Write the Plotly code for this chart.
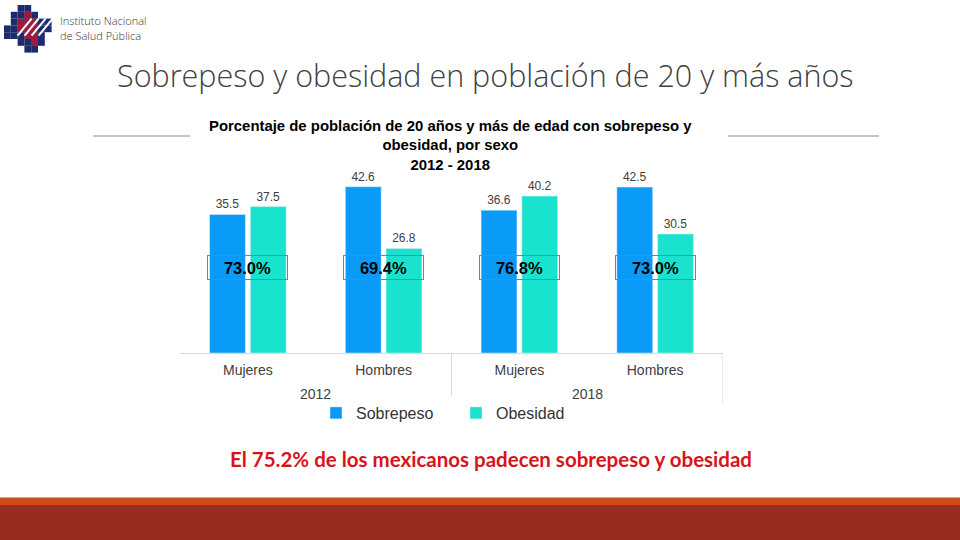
import plotly.graph_objects as go

# ---- data ----
years = ["2012", "2012", "2018", "2018"]
sexes = ["Mujeres", "Hombres", "Mujeres", "Hombres"]
sobrepeso = [35.5, 42.6, 36.6, 42.5]
obesidad = [37.5, 26.8, 40.2, 30.5]
totales = ["73.0%", "69.4%", "76.8%", "73.0%"]

slide_title = "Sobrepeso y obesidad en población de 20 y más años"
chart_title = ("Porcentaje de población de 20 años y más de edad con sobrepeso y<br>"
               "obesidad, por sexo<br>2012 - 2018")
footer_text = "El 75.2% de los mexicanos padecen sobrepeso y obesidad"

W, H = 960, 540
def px(x):
    return x / W
def py(y):
    return 1 - y / H

C_SOB = "#0A9BF8"
C_OBE = "#19E3CF"

XDOM = [px(180), px(723)]
xpos = list(range(len(sexes)))

fig = go.Figure()
fig.add_trace(go.Bar(
    x=xpos, y=sobrepeso, name="Sobrepeso", marker_color=C_SOB,
    text=[f"{v:.1f}" for v in sobrepeso], textposition="outside",
    textfont=dict(size=12, color="#404040", family="Liberation Sans"),
    cliponaxis=False,
))
fig.add_trace(go.Bar(
    x=xpos, y=obesidad, name="Obesidad", marker_color=C_OBE,
    text=[f"{v:.1f}" for v in obesidad], textposition="outside",
    textfont=dict(size=12, color="#404040", family="Liberation Sans"),
    cliponaxis=False,
))

annotations = []
for i, t in zip(xpos, totales):
    annotations.append(dict(
        x=i, xref="x", y=22, yref="y", xanchor="center", yanchor="middle",
        text=f"<b>{t}</b>", showarrow=False, align="center",
        font=dict(size=16.5, color="#000000", family="Liberation Sans"),
        width=75, height=19, borderpad=2,
        bordercolor="#808080", borderwidth=1, bgcolor="rgba(0,0,0,0)",
    ))

# year group labels and dividers
shapes = []
unique_years = list(dict.fromkeys(years))
for yr in unique_years:
    idx = [i for i, y in zip(xpos, years) if y == yr]
    annotations.append(dict(
        x=sum(idx) / len(idx), xref="x", y=py(394), yref="paper",
        text=yr, showarrow=False, xanchor="center", yanchor="middle",
        font=dict(size=14, color="#404040", family="Liberation Sans"),
    ))
    shapes.append(dict(type="line", xref="x", yref="paper",
                       x0=max(idx) + 0.5, x1=max(idx) + 0.5, y0=py(354), y1=py(403),
                       line=dict(color="#D9D9D9", width=1)))

# Chart title
annotations.append(dict(
    x=px(450), y=py(145), xref="paper", yref="paper", text=f"<b>{chart_title}</b>",
    showarrow=False, font=dict(size=14.9, color="#000000", family="Liberation Sans"),
    align="center", xanchor="center", yanchor="middle",
))
# Slide title
annotations.append(dict(
    x=px(485), y=py(75), xref="paper", yref="paper", text=slide_title,
    showarrow=False, font=dict(size=30.5, color="#404040", family="Open Sans", weight=300),
    xanchor="center", yanchor="middle",
))
# Footer statement
annotations.append(dict(
    x=px(491), y=py(459), xref="paper", yref="paper", text=f"<b>{footer_text}</b>",
    showarrow=False, font=dict(size=20.5, color="#D7141B", family="Lato"),
    xanchor="center", yanchor="middle",
))
# Logo text
annotations.append(dict(
    x=px(58), y=py(21), xref="paper", yref="paper", text="Instituto Nacional",
    showarrow=False, font=dict(size=11, color="#333333", family="Open Sans", weight=300),
    xanchor="left", yanchor="middle",
))
annotations.append(dict(
    x=px(58), y=py(36), xref="paper", yref="paper", text="de Salud Pública",
    showarrow=False, font=dict(size=11, color="#333333", family="Open Sans", weight=300),
    xanchor="left", yanchor="middle",
))

# decorative gray lines
for x0, x1 in [(93, 190), (728, 879)]:
    shapes.append(dict(type="line", xref="paper", yref="paper",
                       x0=px(x0), x1=px(x1), y0=py(136), y1=py(136),
                       line=dict(color="#8c8c8c", width=1)))
# bottom bands
shapes.append(dict(type="rect", xref="paper", yref="paper", x0=0, x1=1,
                   y0=py(505), y1=py(497.5), fillcolor="#D04A1A", line_width=0, layer="below"))
shapes.append(dict(type="rect", xref="paper", yref="paper", x0=0, x1=1,
                   y0=0, y1=py(505), fillcolor="#9A2B1F", line_width=0, layer="below"))

# logo (stepped cross pattern)
cell = 6.8
ox, oy = 4, 5
navy_cells = {
    0: [2, 3],
    1: [1, 2, 3, 4],
    2: [1, 2, 3, 4, 5, 6],
    3: [0, 1, 2, 3, 4, 5, 6],
    4: [0, 1, 2, 3, 4, 5],
    5: [2, 3, 4, 5],
    6: [3, 4],
}
red_cells = {
    1: [3],
    2: [2, 3, 4],
    3: [2, 3, 4],
    4: [3, 4],
    5: [4],
}
for r, cols in navy_cells.items():
    for c in cols:
        shapes.append(dict(type="rect", xref="paper", yref="paper",
                           x0=px(ox + c * cell), x1=px(ox + (c + 1) * cell),
                           y0=py(oy + (r + 1) * cell), y1=py(oy + r * cell),
                           fillcolor="#1E2A6E", line_width=0))
for r, cols in red_cells.items():
    for c in cols:
        shapes.append(dict(type="rect", xref="paper", yref="paper",
                           x0=px(ox + c * cell), x1=px(ox + (c + 1) * cell),
                           y0=py(oy + (r + 1) * cell), y1=py(oy + r * cell),
                           fillcolor="#9C1B3C", line_width=0))
for k in range(4):
    sx = ox + 2 * cell + k * 7
    shapes.append(dict(type="line", xref="paper", yref="paper",
                       x0=px(sx), y0=py(oy + 4.5 * cell), x1=px(sx + 14), y1=py(oy + 2.0 * cell),
                       line=dict(color="#FFFFFF", width=2)))

fig.update_layout(
    width=W, height=H,
    margin=dict(l=0, r=0, t=0, b=0),
    paper_bgcolor="#FFFFFF", plot_bgcolor="#FFFFFF",
    barmode="group", bargap=0.4, bargroupgap=0.12,
    font=dict(family="Liberation Sans", color="#404040"),
    xaxis=dict(domain=XDOM, range=[-0.5, len(sexes) - 0.5],
               tickmode="array", tickvals=xpos, ticktext=sexes,
               showline=True, linecolor="#D9D9D9", ticks="", showgrid=False,
               zeroline=False, ticklabelstandoff=4,
               tickfont=dict(size=14, color="#404040")),
    yaxis=dict(domain=[py(353), py(175)], range=[0, 45.6], visible=False,
               showgrid=False, zeroline=False),
    legend=dict(orientation="h", x=px(316), xanchor="left", y=py(413), yanchor="middle",
                yref="paper", font=dict(size=16, color="#333333"),
                itemwidth=30, entrywidth=95, traceorder="normal"),
    annotations=annotations,
    shapes=shapes,
)

fig.write_html(
    "out.html",
    config={"displayModeBar": False},
    post_script="document.body.style.margin='0';document.body.style.overflow='hidden';",
)
